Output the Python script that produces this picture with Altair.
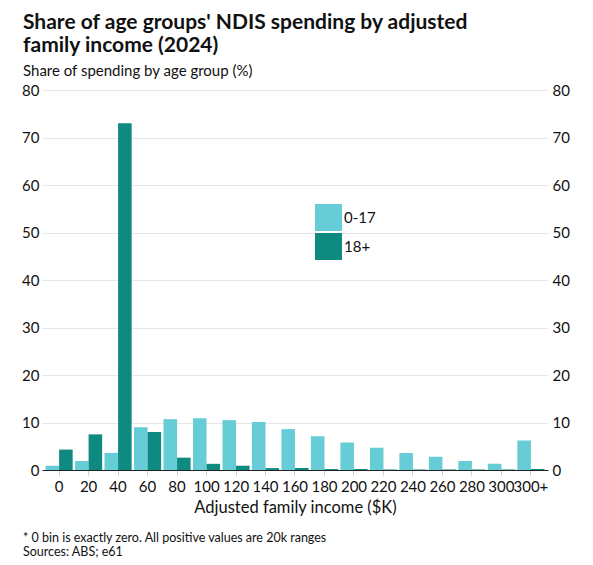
import altair as alt
import pandas as pd

# ---- data ----
income = ["0", "20", "40", "60", "80", "100", "120", "140", "160", "180",
          "200", "220", "240", "260", "280", "300", "300+"]
age_0_17 = [0.9, 1.9, 3.6, 9.0, 10.7, 10.9, 10.5, 10.1, 8.6, 7.1,
            5.8, 4.7, 3.6, 2.8, 1.9, 1.3, 6.2]
age_18_plus = [4.3, 7.5, 73.0, 8.0, 2.6, 1.3, 0.9, 0.4, 0.4, 0.2,
               0.2, 0.1, 0.1, 0.1, 0.1, 0.1, 0.2]
groups = ["0-17", "18+"]
colors = ["#66cdd6", "#0f8a80"]
y_ticks = [0, 10, 20, 30, 40, 50, 60, 70, 80]
title_lines = ["Share of age groups' NDIS spending by adjusted", "family income (2024)"]
subtitle = "Share of spending by age group (%)"
x_title = "Adjusted family income ($K)"
notes = "* 0 bin is exactly zero. All positive values are 20k ranges\nSources: ABS; e61"

rows = []
for i, inc in enumerate(income):
    rows.append({"income": inc, "group": groups[0], "value": age_0_17[i]})
    rows.append({"income": inc, "group": groups[1], "value": age_18_plus[i]})
df = pd.DataFrame(rows)

FONT = "Lato"
W, H = 506, 380

x_enc = alt.X(
    "income:N", sort=income,
    scale=alt.Scale(paddingInner=0.08, paddingOuter=0.12),
    axis=alt.Axis(title=x_title, labelAngle=0, labelFontSize=15, labelColor="#111",
                  labelFont=FONT, titleFont=FONT, titleFontSize=16.5,
                  titleFontWeight="normal", titleColor="#111", titlePadding=5,
                  domainColor="#222", domainWidth=1, tickColor="#cccccc",
                  tickSize=5, labelPadding=4),
)

bars = alt.Chart(df).mark_bar().encode(
    x=x_enc,
    xOffset=alt.XOffset("group:N", sort=groups,
                        scale=alt.Scale(paddingInner=0, paddingOuter=0)),
    y=alt.Y("value:Q", scale=alt.Scale(domain=[0, 80], nice=False),
            axis=alt.Axis(values=y_ticks, title=None, domain=False, ticks=False,
                          grid=True, gridColor="#e6e6e6", labelFontSize=15,
                          labelFont=FONT, labelColor="#111", labelPadding=3)),
    color=alt.Color("group:N", sort=groups,
                    scale=alt.Scale(domain=groups, range=colors),
                    legend=alt.Legend(title=None, orient="none", legendX=273,
                                      legendY=114, symbolType="square",
                                      symbolSize=729, symbolStrokeWidth=0,
                                      labelFontSize=15, labelFont=FONT,
                                      labelColor="#111", labelOffset=2,
                                      rowPadding=2, padding=0)),
)

right_axis = alt.Chart(df).mark_tick(opacity=0).encode(
    y=alt.Y("value:Q", scale=alt.Scale(domain=[0, 80], nice=False),
            axis=alt.Axis(orient="right", values=y_ticks, title=None, domain=False,
                          ticks=False, grid=False, labelFontSize=15,
                          labelFont=FONT, labelColor="#111", labelPadding=4)),
)

foot = alt.Chart(pd.DataFrame({"note": [notes]})).mark_text(
    align="left", baseline="alphabetic", fontSize=12.5, font=FONT,
    color="#111", lineBreak="\n", lineHeight=14,
).encode(text="note:N", x=alt.value(-19), y=alt.value(452))

chart = alt.layer(bars, right_axis, foot).resolve_scale(y="independent").properties(
    width=W, height=H,
    autosize=alt.AutoSizeParams(type="none"),
    padding={"left": 34, "top": 82, "right": 35, "bottom": 88},
    title=alt.TitleParams(
        text=title_lines, subtitle=subtitle, anchor="start", frame="group",
        dx=-19, offset=4, font=FONT, fontSize=21, fontWeight="bold",
        color="#111", lineHeight=23, subtitleFont=FONT, subtitleFontSize=15,
        subtitleColor="#111", subtitlePadding=8, subtitleLineHeight=18,
    ),
).configure_view(stroke=None)

chart.save("out.html", embed_options={"renderer": "svg", "actions": False})
